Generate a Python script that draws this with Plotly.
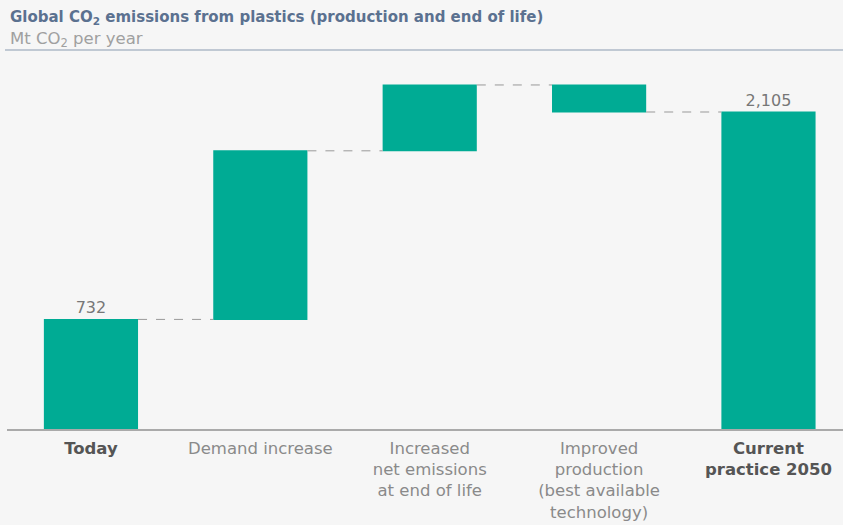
import plotly.graph_objects as go

categories = ["Today", "Demand increase", "Increased net emissions at end of life",
              "Improved production (best available technology)", "Current practice 2050"]
tick_labels = ["<b><span style='color:#555555'>Today</span></b>", "Demand increase",
               "Increased<br>net emissions<br>at end of life",
               "Improved<br>production<br>(best available<br>technology)",
               "<b><span style='color:#555555'>Current<br>practice 2050</span></b>"]
values = [732, 1116, 436, -179, 2105]
measures = ["absolute", "relative", "relative", "relative", "total"]
label_idx = [0, 4]
label_text = ["732", "2,105"]

W, H = 843, 525
T, B = 60, 95
plot_h = H - T - B

def py(pix):
    return (H - B - pix) / plot_h

FONT = "DejaVu Sans, sans-serif"
teal = "#00ab94"
fig = go.Figure(go.Waterfall(
    x=list(range(len(categories))),
    y=values,
    measure=measures,
    width=0.556,
    increasing=dict(marker=dict(color=teal)),
    decreasing=dict(marker=dict(color=teal)),
    totals=dict(marker=dict(color=teal)),
    connector=dict(mode="between", line=dict(color="#999999", width=1, dash="dash")),
    hovertext=categories,
))
fig.add_trace(go.Scatter(
    x=label_idx, y=[values[i] for i in label_idx], mode="markers+text", text=label_text,
    marker=dict(size=2, opacity=0),
    textposition="top center", textfont=dict(size=16, color="#777777", family=FONT),
    hoverinfo="skip",
))

fig.update_layout(
    width=W, height=H,
    margin=dict(l=0, r=0, t=T, b=B),
    paper_bgcolor="#f6f6f6", plot_bgcolor="#f6f6f6",
    showlegend=False,
    font=dict(family=FONT, color="#888888"),
    xaxis=dict(range=[-0.537, 4.44], tickmode="array", tickvals=list(range(5)),
               ticktext=tick_labels, showgrid=False, zeroline=False, showline=False,
               ticks="", tickfont=dict(size=16.5, color="#8a8a8a", family=FONT), ticklabelstandoff=6),
    yaxis=dict(range=[0, plot_h / 0.15107], visible=False, showgrid=False),
    shapes=[
        dict(type="line", xref="paper", yref="paper", x0=7 / W, x1=1, y0=0, y1=0,
             line=dict(color="#aaaaaa", width=2)),
        dict(type="line", xref="paper", yref="paper", x0=5 / W, x1=1, y0=py(50), y1=py(50),
             line=dict(color="#8a9bb0", width=1)),
    ],
    annotations=[
        dict(text="<b>Global CO<sub>2</sub> emissions from plastics (production and end of life)</b>",
             xref="paper", yref="paper", x=8 / W, y=py(17), xanchor="left", yanchor="middle",
             showarrow=False, font=dict(size=15, color="#5b7190", family=FONT)),
        dict(text="Mt CO<sub>2</sub> per year",
             xref="paper", yref="paper", x=8 / W, y=py(39.5), xanchor="left", yanchor="middle",
             showarrow=False, font=dict(size=16.5, color="#a0a0a0", family=FONT)),
    ],
)

fig.write_html("out.html")
